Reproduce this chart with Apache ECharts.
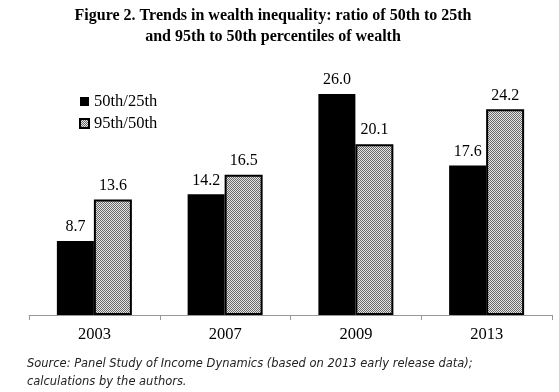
<!DOCTYPE html>
<html><head><meta charset="utf-8">
<script src="https://cdn.jsdelivr.net/npm/echarts@6/dist/echarts.min.js"></script>
<style>html,body{margin:0;padding:0;background:#fff}#c{width:559px;height:392px}</style>
</head><body><div id="c"></div>
<script>
var categories = ['2003', '2007', '2009', '2013'];
var series1Name = '50th/25th';
var series2Name = '95th/50th';
var ratio50to25 = [8.7, 14.2, 26.0, 17.6];
var ratio95to50 = [13.6, 16.5, 20.1, 24.2];
var titleText = 'Figure 2. Trends in wealth inequality: ratio of 50th to 25th\nand 95th to 50th percentiles of wealth';
var sourceText = 'Source: Panel Study of Income Dynamics (based on 2013 early release data);\ncalculations by the authors.';

var pc = document.createElement('canvas');
pc.width = 2; pc.height = 2;
var g = pc.getContext('2d');
g.fillStyle = '#e4e4e4'; g.fillRect(0,0,2,2);
g.fillStyle = '#6a6a6a'; g.fillRect(0,0,1,1); g.fillRect(1,1,1,1);
var pattern = {image: pc, repeat: 'repeat'};

var serif = '"Liberation Serif", "Times New Roman", serif';
var chart = echarts.init(document.getElementById('c'), null, {renderer: 'canvas'});
chart.setOption({
  animation: false,
  backgroundColor: '#fff',
  title: [{
    text: titleText, left: 268, top: 0, textAlign: 'center',
    textStyle: {fontFamily: serif, fontSize: 16, fontWeight: 'bold', color: '#000', lineHeight: 21, align: 'center'}
  }, {
    text: sourceText, left: 22, top: 350,
    textStyle: {fontFamily: '"DejaVu Sans Condensed", "DejaVu Sans", sans-serif', fontSize: 12.75, fontStyle: 'italic', fontWeight: 'normal', color: '#222', lineHeight: 18}
  }],
  legend: {
    orient: 'vertical', left: 74, top: 88, itemGap: 5, itemWidth: 9, itemHeight: 9,
    textStyle: {fontFamily: serif, fontSize: 16.5, color: '#000'},
    data: [{name: series1Name, icon: 'rect'}, {name: series2Name, icon: 'rect'}]
  },
  grid: {left: 29, right: 7, top: 60, bottom: 77},
  xAxis: {
    type: 'category', data: categories,
    axisLine: {lineStyle: {color: '#999', width: 1}},
    axisTick: {show: true, length: 5, lineStyle: {color: '#999'}},
    axisLabel: {fontFamily: serif, fontSize: 16.5, color: '#000', margin: 11}
  },
  yAxis: {type: 'value', min: 0, max: 30, show: false, splitLine: {show: false}},
  series: [{
    name: series1Name, type: 'bar', data: ratio50to25, barWidth: 37, barGap: '0%',
    itemStyle: {color: '#000'},
    label: {show: true, position: 'top', distance: 6, fontFamily: serif, fontSize: 16, color: '#000', formatter: function(p){return p.value.toFixed(1);}}
  }, {
    name: series2Name, type: 'bar', data: ratio95to50, barWidth: 38, barGap: '0%',
    itemStyle: {color: pattern, borderColor: '#000', borderWidth: 2},
    label: {show: true, position: 'top', distance: 6, fontFamily: serif, fontSize: 16, color: '#000', formatter: function(p){return p.value.toFixed(1);}}
  }]
});
</script></body></html>
